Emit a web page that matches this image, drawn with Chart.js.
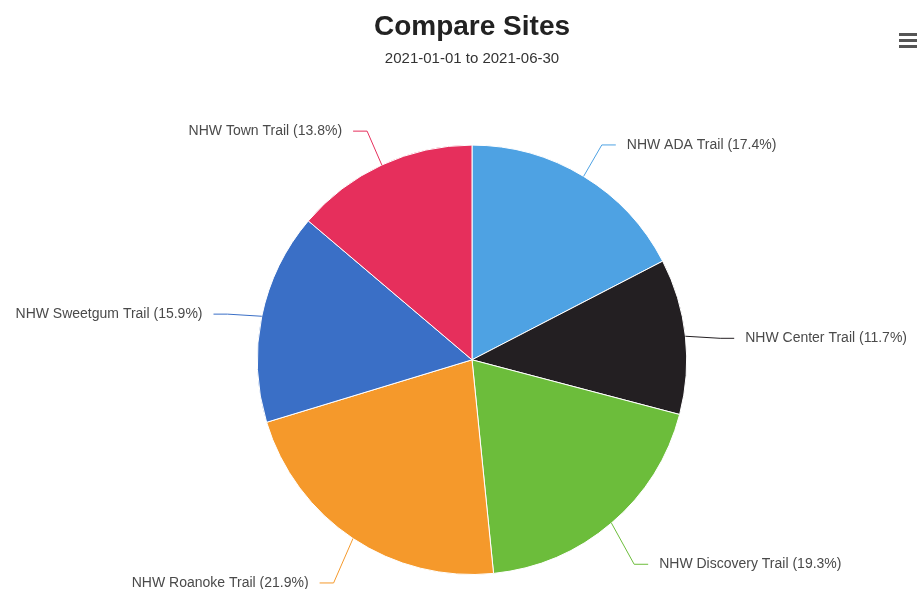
<!DOCTYPE html>
<html>
<head>
<meta charset="utf-8">
<script src="https://cdn.jsdelivr.net/npm/chart.js@4.4.1/dist/chart.umd.min.js"></script>
<style>
  html, body { margin: 0; padding: 0; background: #fff; }
  #wrap { position: relative; width: 924px; height: 589px; }
  #menu { position: absolute; left: 899px; top: 33px; width: 18px; }
  #menu div { height: 3px; background: #555; margin-bottom: 3px; }
</style>
</head>
<body>
<div id="wrap">
  <canvas id="sitesChart" width="924" height="589"></canvas>
  <div id="menu"><div></div><div></div><div></div></div>
</div>
<script>
// Datos del gráfico
const sites = ['NHW ADA Trail', 'NHW Center Trail', 'NHW Discovery Trail', 'NHW Roanoke Trail', 'NHW Sweetgum Trail', 'NHW Town Trail'];
const shares = [17.4, 11.7, 19.3, 21.9, 15.9, 13.8];
const sliceColors = ['#4ea2e3', '#231f22', '#6cbd3b', '#f5992b', '#3a6fc6', '#e62f5c'];

// Etiquetas fuera del pastel con línea conectora
const outsideLabels = {
  id: 'outsideLabels',
  afterDatasetsDraw(chart) {
    const ctx = chart.ctx;
    const meta = chart.getDatasetMeta(0);
    ctx.save();
    ctx.font = '14px "Liberation Sans", Arial, sans-serif';
    ctx.textBaseline = 'middle';
    meta.data.forEach(function (arc, i) {
      const mid = (arc.startAngle + arc.endAngle) / 2;
      const cos = Math.cos(mid), sin = Math.sin(mid);
      const r = arc.outerRadius;
      const ex = arc.x + r * cos, ey = arc.y + r * sin;
      const lr = r + 35;
      const lx = arc.x + lr * cos;
      const ly = arc.y + lr * sin + 7 + 10 * sin;
      const right = cos >= 0;
      const hx = lx + (right ? 14 : -14);
      ctx.strokeStyle = sliceColors[i];
      ctx.lineWidth = 1;
      ctx.beginPath();
      ctx.moveTo(ex, ey);
      ctx.lineTo(lx, ly);
      ctx.lineTo(hx, ly);
      ctx.stroke();
      ctx.fillStyle = '#4a4a4a';
      ctx.textAlign = right ? 'left' : 'right';
      const txt = sites[i] + ' (' + shares[i].toFixed(1) + '%)';
      ctx.fillText(txt, lx + (right ? 25 : -25), ly);
    });
    ctx.restore();
  }
};

const ctx = document.getElementById('sitesChart').getContext('2d');
const sitesChart = new Chart(ctx, {
  type: 'pie',
  data: {
    labels: sites,
    datasets: [{
      data: shares,
      backgroundColor: sliceColors,
      borderColor: '#ffffff',
      borderWidth: 1
    }]
  },
  options: {
    responsive: false,
    animation: false,
    layout: { padding: { left: 20, right: 0, top: 0, bottom: 14 } },
    plugins: {
      legend: { display: false },
      tooltip: { enabled: false },
      title: {
        display: true,
        text: 'Compare Sites',
        color: '#222',
        font: { family: '"Liberation Sans", Arial, sans-serif', size: 28, weight: 'bold' },
        padding: { top: 10, bottom: 0 }
      },
      subtitle: {
        display: true,
        text: '2021-01-01 to 2021-06-30',
        color: '#333',
        font: { family: '"Liberation Sans", Arial, sans-serif', size: 15 },
        padding: { top: 6, bottom: 77 }
      }
    }
  },
  plugins: [outsideLabels]
});
</script>
</body>
</html>
